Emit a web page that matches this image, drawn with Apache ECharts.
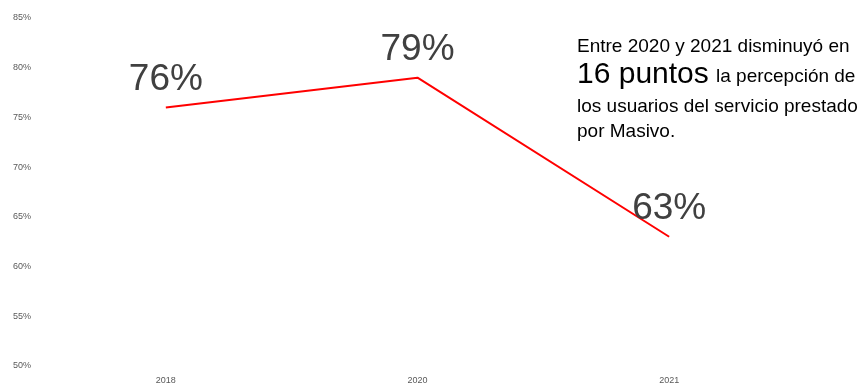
<!DOCTYPE html>
<html><head><meta charset="utf-8">
<script src="https://cdn.jsdelivr.net/npm/echarts@6/dist/echarts.min.js"></script>
<style>html,body{margin:0;padding:0;background:#fff}#c{width:866px;height:385px}</style>
</head><body><div id="c"></div>
<script>
const categories = ['2018', '2020', '2021'];
const values = [76, 79, 63];
const yMin = 50, yMax = 85, yStep = 5;

const chart = echarts.init(document.getElementById('c'));
const txt = '#000000';
const f = '19px "Liberation Sans"';
chart.setOption({
  animation: false,
  grid: { left: 40, right: 71, top: 18, bottom: 18, containLabel: false },
  xAxis: {
    type: 'category', data: categories, boundaryGap: true,
    axisLine: { show: false }, axisTick: { show: false }, splitLine: { show: false },
    axisLabel: { color: '#595959', fontSize: 9, fontFamily: 'Liberation Sans', margin: 10 }
  },
  yAxis: {
    type: 'value', min: yMin, max: yMax, interval: yStep,
    axisLine: { show: false }, axisTick: { show: false }, splitLine: { show: false },
    axisLabel: { color: '#595959', fontSize: 9, fontFamily: 'Liberation Sans', formatter: '{value}%', align: 'left', margin: 27 }
  },
  series: [{
    type: 'line', data: values, symbol: 'circle', symbolSize: 1, showSymbol: true,
    itemStyle: { color: 'rgba(255,0,0,0)' },
    lineStyle: { color: '#ff0000', width: 2 },
    label: { show: true, position: 'top', distance: 9, formatter: '{c}%', color: '#404040', fontSize: 37, fontFamily: 'Liberation Sans' }
  }],
  graphic: [
    { type: 'text', left: 577, top: 37, style: { text: 'Entre 2020 y 2021 disminuyó en', fill: txt, font: f } },
    { type: 'text', left: 577, top: 60, style: { text: '16 puntos', fill: txt, font: '30px "Liberation Sans"' } },
    { type: 'text', left: 716, top: 67, style: { text: 'la percepción de', fill: txt, font: f } },
    { type: 'text', left: 577, top: 97, style: { text: 'los usuarios del servicio prestado', fill: txt, font: f } },
    { type: 'text', left: 577, top: 122, style: { text: 'por Masivo.', fill: txt, font: f } }
  ]
});
</script></body></html>
